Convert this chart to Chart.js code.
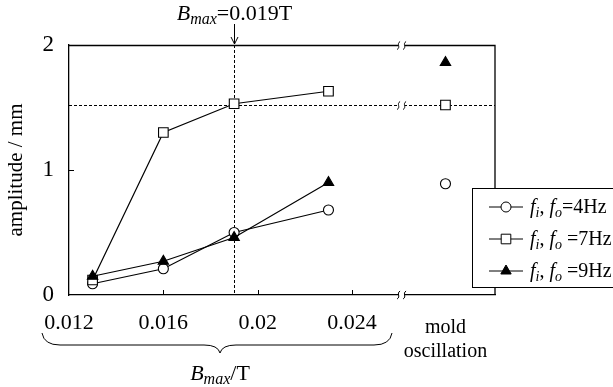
<!DOCTYPE html>
<html><head><meta charset="utf-8">
<script src="https://cdn.jsdelivr.net/npm/chart.js@4"></script>
<style>html,body{margin:0;padding:0;background:#fff;} #wrap{width:613px;height:387px;position:relative}</style>
</head><body><div id="wrap"><canvas id="c" width="613" height="387"></canvas></div>
<script>
// ---- data ----
const fieldB   = [0.013, 0.016, 0.019, 0.023];     // B_max / T
const amp4Hz   = [0.09, 0.21, 0.50, 0.68];
const amp7Hz   = [0.12, 1.30, 1.53, 1.63];
const amp9Hz   = [0.15, 0.27, 0.46, 0.90];
const moldAmp  = [0.89, 1.52, 1.86];               // mold oscillation: 4Hz, 7Hz, 9Hz
const freqNames = ['4Hz', '7Hz', '9Hz'];
const xTickValues = [0.012, 0.016, 0.02, 0.024];
const xTickLabels = ['0.012', '0.016', '0.02', '0.024'];
const yTickValues = [0, 1, 2];
const markB = 0.019;        // dashed vertical line
const markAmp = 1.52;       // dashed horizontal line
const moldText = ['mold', 'oscillation'];

// ---- axis layout (positions on the broken x axis) ----
const X_MIN = 0.012, X_MAX = 0.03006, X_BREAK = 0.0261, X_MOLD = 0.02796;
const FONT = '"Liberation Serif", "Times New Roman", serif';

function series(vals, moldVal) {
  const pts = fieldB.map((b, i) => ({x: b, y: vals[i]}));
  pts.push({x: X_MOLD, y: null});
  pts.push({x: X_MOLD, y: moldVal});
  return pts;
}
const styles = [
  {pointStyle: 'circle',   radius: 5,   bg: '#fff'},
  {pointStyle: 'rect',     radius: 6.8, bg: '#fff'},
  {pointStyle: 'triangle', radius: 6,   bg: '#000'}
];
const allAmps = [amp4Hz, amp7Hz, amp9Hz];
const datasets = allAmps.map((a, i) => ({
  label: 'f_i, f_o=' + freqNames[i],
  data: series(a, moldAmp[i]),
  borderColor: '#000', borderWidth: 1.2,
  backgroundColor: styles[i].bg,
  pointStyle: styles[i].pointStyle,
  pointRadius: styles[i].radius,
  pointBorderWidth: 1.1,
  pointBorderColor: '#000',
  pointBackgroundColor: styles[i].bg,
  spanGaps: false, tension: 0,
  order: 2 - i
}));

function rich(ctx, parts, x, y, align) {
  let w = 0;
  parts.forEach(p => { ctx.font = (p.it ? 'italic ' : '') + p.s + 'px ' + FONT; p.w = ctx.measureText(p.t).width; w += p.w; });
  let cx = align === 'center' ? x - w / 2 : x;
  ctx.textAlign = 'left'; ctx.textBaseline = 'alphabetic';
  parts.forEach(p => { ctx.font = (p.it ? 'italic ' : '') + p.s + 'px ' + FONT; ctx.fillText(p.t, cx, y + (p.dy || 0)); cx += p.w; });
}
function breakMark(ctx, bx, y) {
  ctx.save();
  ctx.fillStyle = '#fff';
  ctx.fillRect(bx - 3, y - 3, 6, 6);
  ctx.strokeStyle = '#000'; ctx.lineWidth = 1; ctx.setLineDash([]);
  [-3, 3].forEach(d => {
    const x = bx + d;
    ctx.beginPath();
    ctx.moveTo(x - 1.5, y + 4);
    ctx.bezierCurveTo(x + 2.5, y + 1.5, x - 2.5, y - 1.5, x + 1.5, y - 4);
    ctx.stroke();
  });
  ctx.restore();
}

const decor = {
  id: 'decor',
  beforeDatasetsDraw(chart) {
    const {ctx, chartArea: a, scales: {x, y}} = chart;
    ctx.save();
    ctx.strokeStyle = '#000'; ctx.lineWidth = 1; ctx.setLineDash([3, 2]);
    const vx = Math.round(x.getPixelForValue(markB)) + 0.5;
    ctx.beginPath(); ctx.moveTo(vx, a.top); ctx.lineTo(vx, a.bottom); ctx.stroke();
    const hy = Math.round(y.getPixelForValue(markAmp)) + 0.5;
    ctx.beginPath(); ctx.moveTo(a.left, hy); ctx.lineTo(a.right, hy); ctx.stroke();
    ctx.restore();
  },
  afterDraw(chart) {
    const {ctx, chartArea: a, scales: {x, y}} = chart;
    ctx.save();
    ctx.strokeStyle = '#000'; ctx.fillStyle = '#000'; ctx.lineWidth = 1.3; ctx.setLineDash([]);
    // top and right frame
    ctx.beginPath(); ctx.moveTo(a.left, a.top + 0.5); ctx.lineTo(a.right, a.top + 0.5); ctx.lineTo(a.right, a.bottom); ctx.stroke();
    // inward ticks
    ctx.lineWidth = 1;
    xTickValues.slice(1).forEach(v => {
      const px = Math.round(x.getPixelForValue(v)) + 0.5;
      ctx.beginPath(); ctx.moveTo(px, a.bottom); ctx.lineTo(px, a.bottom - 5); ctx.stroke();
    });
    yTickValues.slice(1, -1).forEach(v => {
      const py = Math.round(y.getPixelForValue(v)) + 0.5;
      ctx.beginPath(); ctx.moveTo(a.left, py); ctx.lineTo(a.left + 5, py); ctx.stroke();
    });
    // axis breaks
    const bx = x.getPixelForValue(X_BREAK);
    breakMark(ctx, bx, a.top + 0.5);
    breakMark(ctx, bx, Math.round(y.getPixelForValue(markAmp)) + 0.5);
    breakMark(ctx, bx, a.bottom);
    // arrow and annotation
    const vx = Math.round(x.getPixelForValue(markB)) + 0.5;
    ctx.beginPath(); ctx.moveTo(vx, 24); ctx.lineTo(vx, a.top - 1); ctx.stroke();
    ctx.beginPath(); ctx.moveTo(vx - 3.5, a.top - 8); ctx.lineTo(vx, a.top - 1); ctx.lineTo(vx + 3.5, a.top - 8); ctx.stroke();
    ctx.fillStyle = '#000';
    rich(ctx, [{t: 'B', it: true, s: 22}, {t: 'max', it: true, s: 16, dy: 4}, {t: '=' + markB + 'T', s: 22}], vx, 20, 'center');
    // mold oscillation label
    ctx.font = '20px ' + FONT; ctx.textAlign = 'center'; ctx.textBaseline = 'alphabetic';
    const mx = x.getPixelForValue(X_MOLD);
    ctx.fillText(moldText[0], mx, 333);
    ctx.fillText(moldText[1], mx, 357);
    // brace
    const bL = 42, bR = 392, bTop = 333, bMid = 345, bTip = 353;
    const cx = x.getPixelForValue(0.01908) - 16;
    ctx.lineWidth = 1;
    ctx.beginPath();
    ctx.moveTo(bL, bTop);
    ctx.quadraticCurveTo(bL + 2, bMid, bL + 18, bMid);
    ctx.lineTo(cx - 16, bMid);
    ctx.quadraticCurveTo(cx - 2, bMid, cx, bTip);
    ctx.quadraticCurveTo(cx + 2, bMid, cx + 16, bMid);
    ctx.lineTo(bR - 18, bMid);
    ctx.quadraticCurveTo(bR - 2, bMid, bR, bTop);
    ctx.stroke();
    rich(ctx, [{t: 'B', it: true, s: 22}, {t: 'max', it: true, s: 16, dy: 4}, {t: '/T', s: 22}], cx, 380, 'center');
    // legend
    const lx = 472, ly = 188, lh = 99;
    ctx.fillStyle = '#fff'; ctx.fillRect(lx, ly, 160, lh);
    ctx.strokeStyle = '#000'; ctx.lineWidth = 1;
    ctx.strokeRect(lx + 0.5, ly + 0.5, 160, lh);
    chart.data.datasets.forEach((ds, i) => {
      const ry = ly + 19 + i * 32;
      ctx.beginPath(); ctx.moveTo(489, ry); ctx.lineTo(523, ry); ctx.stroke();
      ctx.fillStyle = ds.pointBackgroundColor;
      Chart.helpers.drawPoint(ctx, {pointStyle: ds.pointStyle, radius: ds.pointRadius, borderWidth: 1.1, rotation: 0}, 506, ry);
      ctx.fillStyle = '#000';
      const eq = i === 0 ? '=' : ' =';
      rich(ctx, [{t: 'f', it: true, s: 20}, {t: 'i', it: true, s: 14, dy: 4}, {t: ', ', s: 20},
                 {t: 'f', it: true, s: 20}, {t: 'o', it: true, s: 14, dy: 4}, {t: eq + freqNames[i], s: 20}], 530, ry + 6, 'left');
    });
    ctx.restore();
  }
};

new Chart(document.getElementById('c'), {
  type: 'line',
  data: {datasets},
  options: {
    responsive: false, animation: false, devicePixelRatio: 1,
    layout: {padding: {left: 0, right: 118, top: 45, bottom: 0}},
    plugins: {legend: {display: false}, tooltip: {enabled: false}},
    scales: {
      x: {
        type: 'linear', min: X_MIN, max: X_MAX,
        grid: {display: false, drawTicks: false},
        border: {display: true, color: '#000', width: 1.3},
        afterBuildTicks: s => { s.ticks = xTickValues.map(v => ({value: v})); },
        afterFit: s => { s.height = 92; },
        ticks: {
          padding: 15, color: '#000', maxRotation: 0, autoSkip: false,
          font: {family: FONT, size: 22},
          callback: (v) => { const i = xTickValues.indexOf(v); return i >= 0 ? xTickLabels[i] : ''; }
        }
      },
      y: {
        min: 0, max: 2,
        grid: {display: false, drawTicks: false},
        border: {display: true, color: '#000', width: 1.3},
        afterBuildTicks: s => { s.ticks = yTickValues.map(v => ({value: v})); },
        afterFit: s => { s.width = 69; },
        ticks: {padding: 15, color: '#000', font: {family: FONT, size: 23}, callback: v => String(v)},
        title: {display: true, text: 'amplitude / mm', color: '#000', font: {family: FONT, size: 21}, padding: {top: 4, bottom: 0}}
      }
    }
  },
  plugins: [decor]
});
</script></body></html>
